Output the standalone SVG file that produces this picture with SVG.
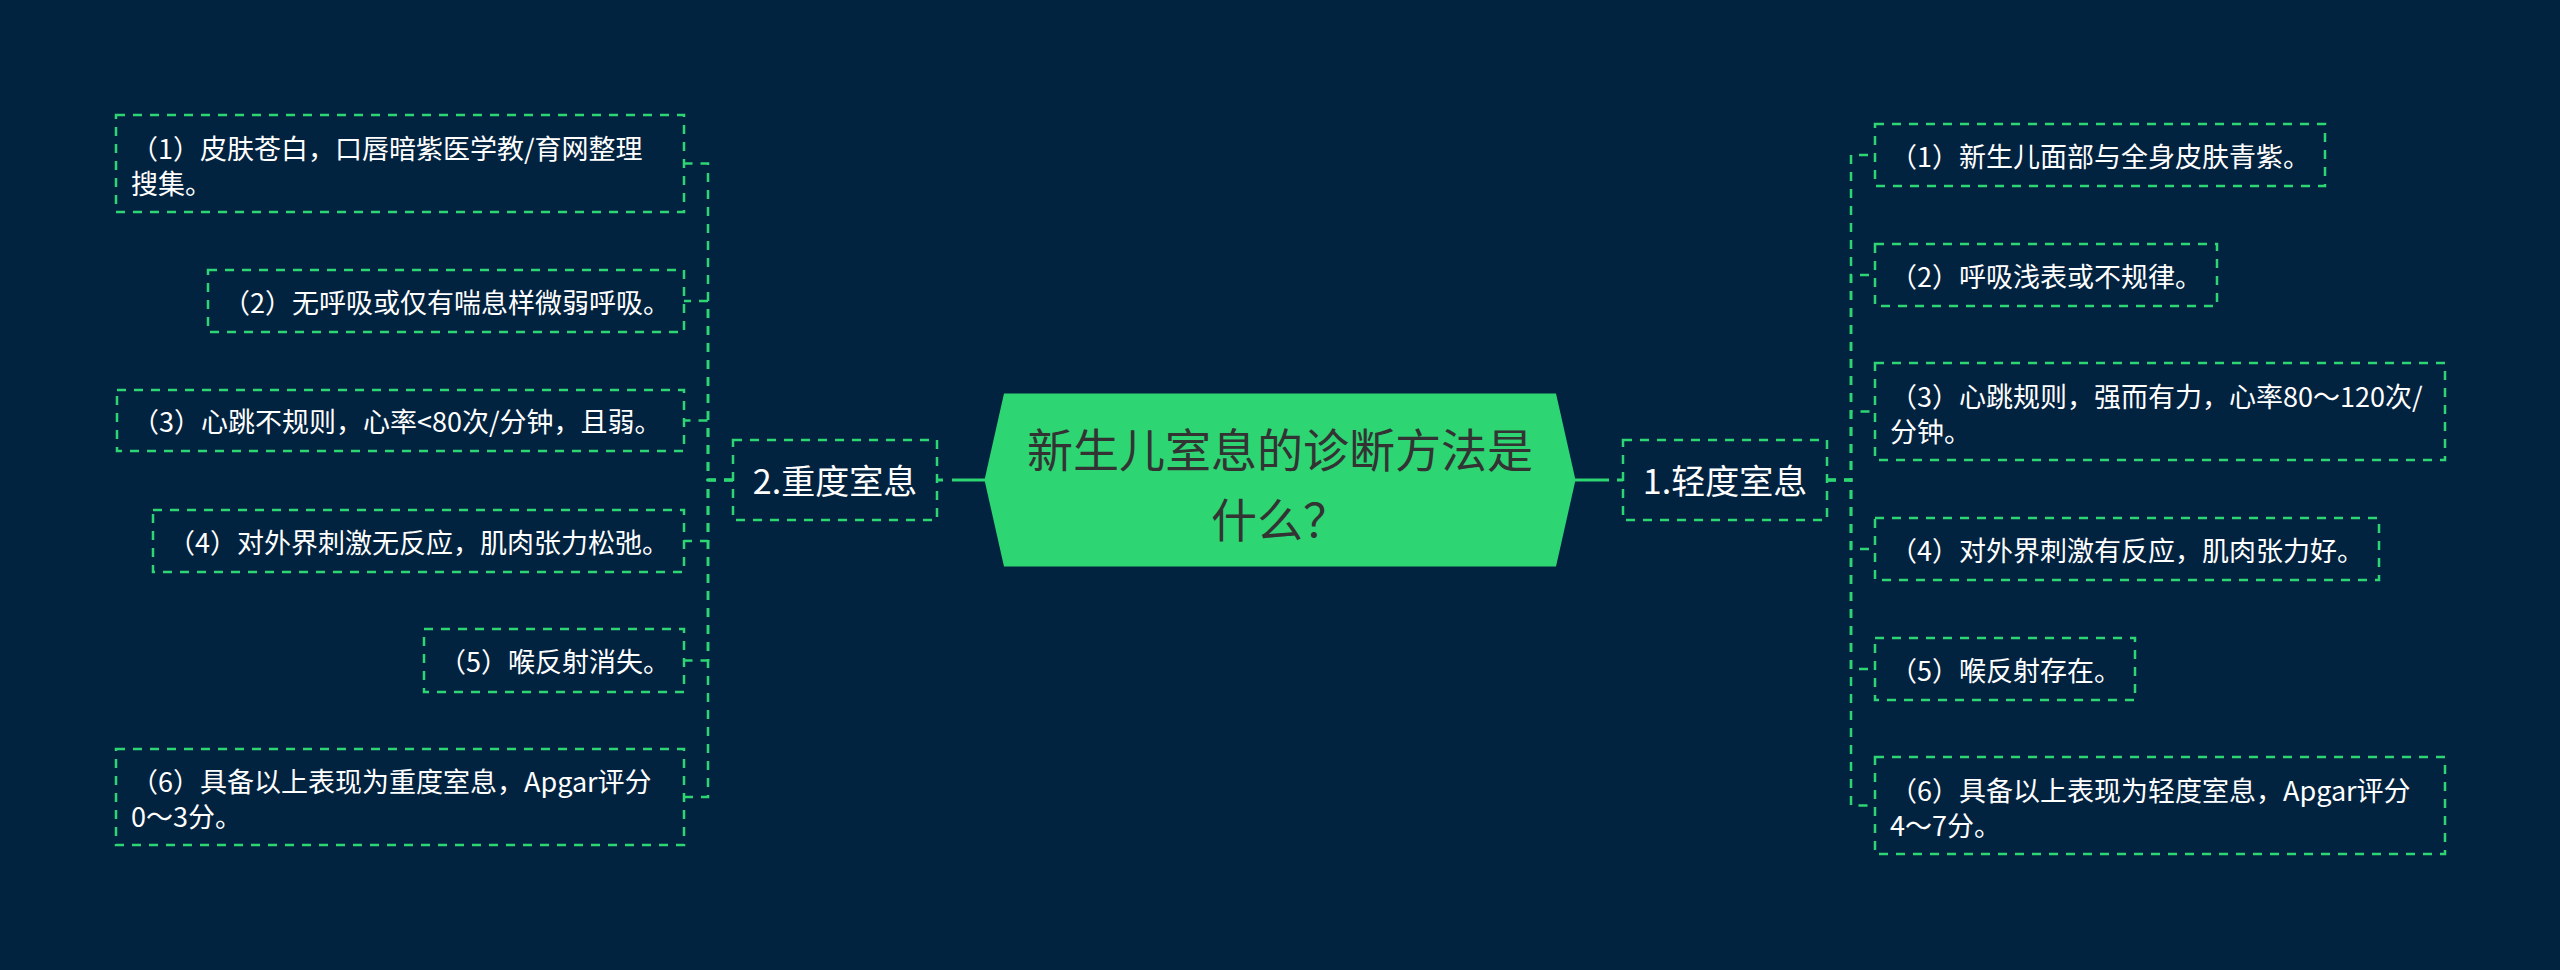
<svg xmlns="http://www.w3.org/2000/svg" width="2560" height="970" viewBox="0 0 2560 970">
<style>
.bg{fill:#022340}
.box{fill:none;stroke:#2ed573;stroke-width:2.5;stroke-dasharray:9 8}
.con{fill:none;stroke:#2ed573;stroke-width:2.5;stroke-dasharray:9 8}
.solid{fill:none;stroke:#2ed573;stroke-width:3}
.t{font-family:"Noto Sans CJK SC","Noto Sans",sans-serif;font-size:27px;fill:#ffffff}
.b{font-family:"Noto Sans CJK SC","Noto Sans",sans-serif;font-size:34px;fill:#ffffff;text-anchor:middle}
.c{font-family:"Noto Sans CJK SC","Noto Sans",sans-serif;font-size:46px;fill:#333333;text-anchor:middle}
</style>
<rect class="bg" x="0" y="0" width="2560" height="970"/>
<g id="connectors">
<line class="solid" x1="952" y1="480" x2="986" y2="480"/>
<line class="solid" x1="1574" y1="480" x2="1609" y2="480"/>
<line class="solid" x1="937" y1="480" x2="943" y2="480" stroke-width="2.5"/>
<line class="solid" x1="1617" y1="480" x2="1623" y2="480" stroke-width="2.5"/>
<path class="con" d="M733,480 H708 V163.5 H684"/>
<path class="con" d="M733,480 H708 V301 H684"/>
<path class="con" d="M733,480 H708 V420.5 H684"/>
<path class="con" d="M733,480 H708 V541 H684"/>
<path class="con" d="M733,480 H708 V660.5 H684"/>
<path class="con" d="M733,480 H708 V797 H684"/>
<path class="con" d="M1827,480 H1851 V155 H1875"/>
<path class="con" d="M1827,480 H1851 V275 H1875"/>
<path class="con" d="M1827,480 H1851 V411.5 H1875"/>
<path class="con" d="M1827,480 H1851 V549 H1875"/>
<path class="con" d="M1827,480 H1851 V669 H1875"/>
<path class="con" d="M1827,480 H1851 V805.5 H1875"/>
</g>
<g id="root">
<polygon points="984.5,480 1004,393.5 1556,393.5 1575.5,480 1556,566.5 1004,566.5" fill="#2ed573"/>
<text class="c" x="1280" y="467">新生儿室息的诊断方法是</text>
<text class="c" x="1280" y="537">什么？</text>
</g>
<g id="branch-severe">
<rect class="box" x="733" y="440" width="204" height="80"/>
<text class="b" x="835" y="494">2.重度室息</text>
</g>
<g id="branch-mild">
<rect class="box" x="1623" y="440" width="204" height="80"/>
<text class="b" x="1725" y="494">1.轻度室息</text>
</g>
<g id="s1">
<rect class="box" x="116" y="115" width="568" height="97"/>
<text class="t" x="131" y="159">（1）皮肤苍白，口唇暗紫医学教/育网整理</text>
<text class="t" x="131" y="194">搜集。</text>
</g>
<g id="s2">
<rect class="box" x="208" y="270" width="476" height="62"/>
<text class="t" x="223" y="313">（2）无呼吸或仅有喘息样微弱呼吸。</text>
</g>
<g id="s3">
<rect class="box" x="117" y="390" width="567" height="61"/>
<text class="t" x="132" y="432">（3）心跳不规则，心率&lt;80次/分钟，且弱。</text>
</g>
<g id="s4">
<rect class="box" x="153" y="510" width="531" height="62"/>
<text class="t" x="168" y="553">（4）对外界刺激无反应，肌肉张力松弛。</text>
</g>
<g id="s5">
<rect class="box" x="424" y="629" width="260" height="63"/>
<text class="t" x="439" y="672">（5）喉反射消失。</text>
</g>
<g id="s6">
<rect class="box" x="116" y="749" width="568" height="96"/>
<text class="t" x="131" y="792">（6）具备以上表现为重度室息，Apgar评分</text>
<text class="t" x="131" y="827">0～3分。</text>
</g>
<g id="m1">
<rect class="box" x="1875" y="124" width="450" height="62"/>
<text class="t" x="1890" y="167">（1）新生儿面部与全身皮肤青紫。</text>
</g>
<g id="m2">
<rect class="box" x="1875" y="244" width="342" height="62"/>
<text class="t" x="1890" y="287">（2）呼吸浅表或不规律。</text>
</g>
<g id="m3">
<rect class="box" x="1875" y="363" width="570" height="97"/>
<text class="t" x="1890" y="407">（3）心跳规则，强而有力，心率80～120次/</text>
<text class="t" x="1890" y="442">分钟。</text>
</g>
<g id="m4">
<rect class="box" x="1875" y="518" width="504" height="62"/>
<text class="t" x="1890" y="561">（4）对外界刺激有反应，肌肉张力好。</text>
</g>
<g id="m5">
<rect class="box" x="1875" y="638" width="260" height="62"/>
<text class="t" x="1890" y="681">（5）喉反射存在。</text>
</g>
<g id="m6">
<rect class="box" x="1875" y="757" width="570" height="97"/>
<text class="t" x="1890" y="801">（6）具备以上表现为轻度室息，Apgar评分</text>
<text class="t" x="1890" y="836">4～7分。</text>
</g>
</svg>
